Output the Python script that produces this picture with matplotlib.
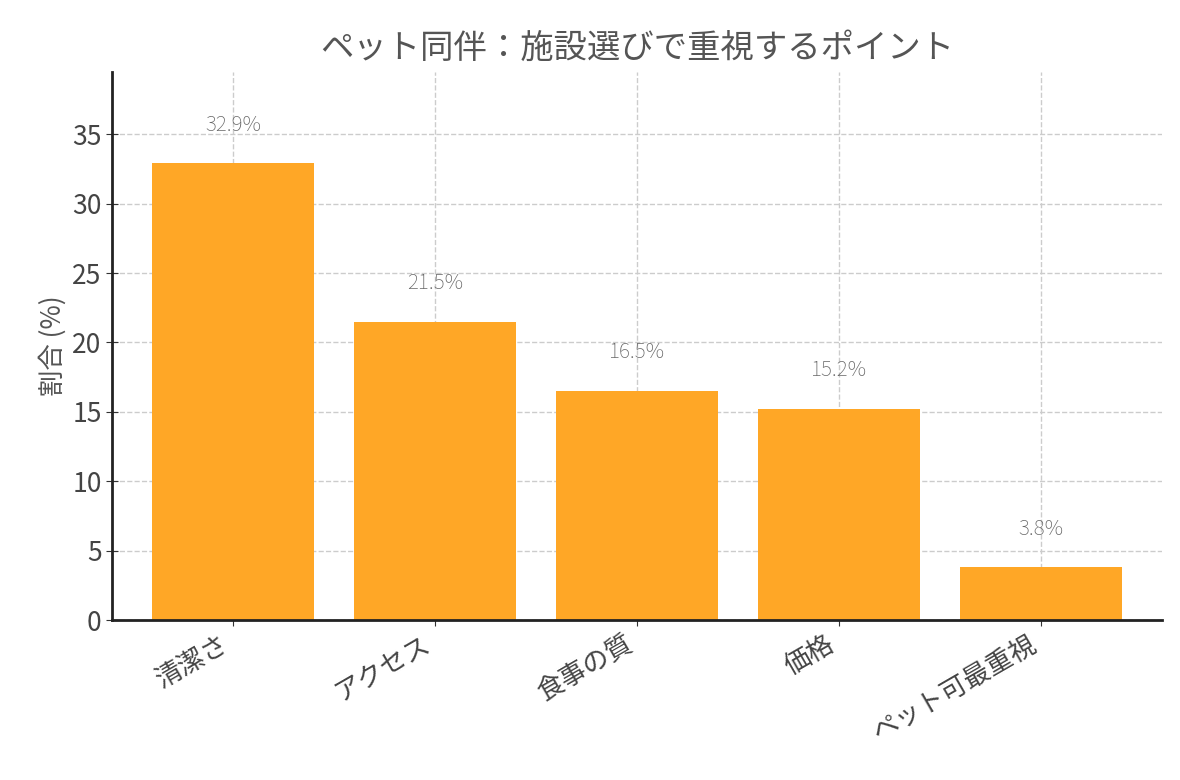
import matplotlib
matplotlib.use("Agg")
import matplotlib.pyplot as plt

plt.rcParams["font.family"] = "Noto Sans CJK JP"

categories = ["清潔さ", "アクセス", "食事の質", "価格", "ペット可最重視"]
values = [32.9, 21.5, 16.5, 15.2, 3.8]

fig = plt.figure(figsize=(11.8, 7.8), dpi=100)
ax = fig.add_axes([0.095, 0.205, 0.89, 0.703])

x = range(len(categories))
ax.bar(x, values, width=0.8, color="#FFA726", zorder=2)
for i, v in zip(x, values):
    ax.text(i, v + 2, f"{v}%", ha="center", va="bottom", fontsize=15, color="#666666",
            fontweight="light")

ax.set_ylim(0, 39.5)
ax.set_xlim(-0.6, 4.6)
ax.set_xticks(list(x))
ax.set_xticklabels(categories, rotation=30, ha="right", fontsize=19, color="#444444")
ax.tick_params(axis="y", labelsize=19, colors="#444444")
ax.tick_params(axis="both", direction="inout", length=8, color="#333333")
ax.set_ylabel("割合 (%)", fontsize=19, color="#555555")
ax.set_title("ペット同伴：施設選びで重視するポイント", fontsize=24, color="#555555", pad=10)
ax.grid(True, linestyle="--", color="#cccccc", linewidth=1, zorder=0)
for s in ["top", "right"]:
    ax.spines[s].set_visible(False)
for s in ["left", "bottom"]:
    ax.spines[s].set_linewidth(2)
    ax.spines[s].set_color("#222222")

fig.savefig("out.png", dpi=100)
